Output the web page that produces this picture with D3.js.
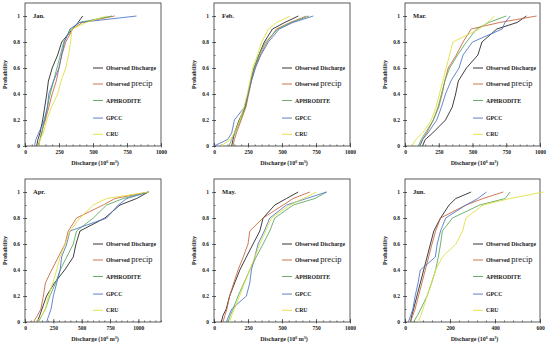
<!DOCTYPE html>
<html lang="en">
<head>
<meta charset="utf-8">
<title>Discharge probability curves</title>
<script src="https://cdn.jsdelivr.net/npm/d3@7"></script>
<style>
  body { margin: 0; background: #fff; }
  text { font-family: "Liberation Serif", "DejaVu Serif", serif; font-weight: bold; fill: #222; }
</style>
</head>
<body>
<script>
// months and x axis setup per panel
var months = ["Jan.", "Feb.", "Mar.", "Apr.", "May.", "Jun."];
var xMax = [1000, 1000, 1000, 1200, 1000, 600];
var xTicks = [
  [0, 250, 500, 750, 1000], [0, 250, 500, 750, 1000], [0, 250, 500, 750, 1000],
  [0, 250, 500, 750, 1000], [0, 250, 500, 750, 1000], [0, 200, 400, 600]
];
var yTicks = [0, 0.2, 0.4, 0.6, 0.8, 1];
var yTickLabels = ["0", "0.2", "0.4", "0.6", "0.8", "1"];

// cumulative probability levels
var probs = [0, 0.05, 0.1, 0.2, 0.3, 0.4, 0.5, 0.6, 0.7, 0.8, 0.9, 0.95, 1];

// discharge (10^6 m3) at each probability, one row per month
var obsDischarge = [
  [86, 95, 110, 130, 145, 160, 172, 200, 240, 270, 350, 390, 424],
  [130, 140, 150, 185, 230, 250, 270, 295, 330, 370, 430, 520, 620],
  [130, 150, 205, 300, 350, 375, 395, 455, 540, 570, 680, 830, 900],
  [109, 130, 150, 190, 260, 350, 426, 450, 485, 705, 838, 985, 1088],
  [54, 66, 90, 115, 152, 190, 238, 287, 337, 361, 447, 533, 619],
  [25, 30, 38, 53, 68, 83, 98, 113, 128, 158, 196, 226, 294]
];
var obsPrecip = [
  [95, 110, 120, 150, 175, 200, 230, 250, 270, 300, 350, 420, 660],
  [140, 150, 165, 200, 235, 255, 275, 300, 340, 390, 460, 560, 680],
  [110, 130, 160, 210, 250, 275, 295, 320, 380, 430, 490, 700, 975],
  [74, 110, 140, 162, 180, 235, 294, 353, 382, 455, 690, 794, 1090],
  [66, 80, 95, 115, 145, 177, 215, 250, 263, 361, 508, 582, 705],
  [23, 35, 45, 60, 75, 90, 105, 120, 136, 158, 271, 347, 437]
];
var aphrodite = [
  [100, 110, 125, 140, 165, 185, 210, 235, 260, 285, 340, 400, 640],
  [110, 130, 155, 195, 230, 250, 270, 295, 330, 380, 470, 570, 700],
  [100, 120, 150, 210, 245, 270, 295, 330, 390, 455, 530, 620, 750],
  [118, 150, 180, 220, 270, 310, 368, 426, 455, 603, 720, 868, 1090],
  [103, 120, 140, 177, 220, 263, 310, 361, 410, 447, 582, 742, 828],
  [38, 55, 70, 98, 118, 136, 148, 158, 166, 211, 332, 445, 467]
];
var gpcc = [
  [70, 80, 100, 145, 165, 175, 210, 250, 270, 290, 330, 400, 820],
  [0, 100, 130, 150, 225, 250, 275, 305, 345, 400, 480, 580, 730],
  [110, 130, 170, 235, 270, 300, 340, 400, 430, 500, 720, 740, 780],
  [190, 210, 230, 250, 280, 310, 323, 368, 397, 720, 823, 897, 1090],
  [91, 110, 130, 238, 263, 275, 300, 324, 370, 410, 533, 680, 828],
  [15, 25, 35, 45, 58, 68, 135, 143, 158, 181, 271, 324, 362]
];
var cru = [
  [100, 110, 135, 160, 195, 240, 265, 300, 320, 335, 345, 450, 600],
  [50, 120, 150, 190, 220, 245, 265, 285, 320, 350, 400, 460, 560],
  [50, 80, 130, 195, 230, 255, 280, 305, 330, 355, 550, 610, 665],
  [103, 150, 180, 206, 245, 280, 310, 353, 397, 485, 603, 720, 1090],
  [115, 130, 150, 189, 225, 263, 300, 337, 380, 422, 558, 656, 754],
  [60, 70, 80, 98, 118, 136, 166, 226, 256, 271, 347, 467, 615]
];

var seriesNames = ["Observed Discharge", "Observed precip", "APHRODITE", "GPCC", "CRU"];
var seriesColors = ["#1e1e1e", "#c8623a", "#55a65a", "#4a72c4", "#dede3a"];
var allSeries = [obsDischarge, obsPrecip, aphrodite, gpcc, cru];

// panel boxes
var colX = [[25, 161], [214, 350], [405, 540]];
var rowY = [[3, 146], [179, 322]];

var svg = d3.select("body").append("svg")
  .attr("width", 550)
  .attr("height", 344);

months.forEach(function(m, i) {
  var c = colX[i % 3], r = rowY[Math.floor(i / 3)];
  var x = d3.scaleLinear().domain([0, xMax[i]]).range(c);
  var y = d3.scaleLinear().domain([0, 1.1]).range([r[1], r[0]]);
  var g = svg.append("g");

  // frame
  g.append("rect")
    .attr("x", c[0]).attr("y", r[0])
    .attr("width", c[1] - c[0]).attr("height", r[1] - r[0])
    .attr("fill", "none").attr("stroke", "#333").attr("stroke-width", 0.8);

  // x minor ticks
  var step = xTicks[i][1] / 5;
  var minors = d3.range(0, xMax[i] + 0.1, step);
  var xMinor = g.append("g").attr("transform", "translate(0," + r[1] + ")")
    .call(d3.axisBottom(x).tickValues(minors).tickSize(-1.5).tickFormat(""));
  var xMajor = g.append("g").attr("transform", "translate(0," + r[1] + ")")
    .call(d3.axisBottom(x).tickValues(xTicks[i]).tickSize(-3).tickPadding(5)
      .tickFormat(function(d) { return String(d); }));
  var xOut = g.append("g").attr("transform", "translate(0," + r[1] + ")")
    .call(d3.axisBottom(x).tickValues(xTicks[i]).tickSize(1.5).tickFormat(""));

  var yMinor = g.append("g").attr("transform", "translate(" + c[0] + ",0)")
    .call(d3.axisLeft(y).tickValues(d3.range(0, 1.05, 0.1)).tickSize(-1.5).tickFormat(""));
  var yMajor = g.append("g").attr("transform", "translate(" + c[0] + ",0)")
    .call(d3.axisLeft(y).tickValues(yTicks).tickSize(2)
      .tickFormat(function(d, k) { return yTickLabels[k]; }).tickPadding(3));
  var yIn = g.append("g").attr("transform", "translate(" + c[0] + ",0)")
    .call(d3.axisLeft(y).tickValues(yTicks).tickSize(-2).tickFormat(""));

  [xMinor, xMajor, xOut, yMinor, yMajor, yIn].forEach(function(a) {
    a.select(".domain").remove();
    a.attr("font-family", null);
    a.selectAll("line").attr("stroke", "#333").attr("stroke-width", 0.7);
    a.selectAll("text").attr("font-size", "5.5px");
  });
  xMajor.selectAll("text").attr("dy", "0.55em");

  // axis titles
  var xt = g.append("text")
    .attr("x", (c[0] + c[1]) / 2 + 2).attr("y", r[1] + 19)
    .attr("text-anchor", "middle").attr("font-size", "6px");
  xt.append("tspan").text("Discharge (10");
  xt.append("tspan").text("6").attr("font-size", "4px").attr("dy", "-2");
  xt.append("tspan").text(" m").attr("dy", "2");
  xt.append("tspan").text("3").attr("font-size", "4px").attr("dy", "-2");
  xt.append("tspan").text(")").attr("dy", "2");

  g.append("text")
    .attr("transform", "translate(" + (c[0] - 18) + "," + ((r[0] + r[1]) / 2) + ") rotate(-90)")
    .attr("text-anchor", "middle").attr("font-size", "6px")
    .text("Probability");

  g.append("text")
    .attr("x", c[0] + 8).attr("y", y(1) + 2)
    .attr("font-size", "6.5px").text(m);

  // curves
  var line = d3.line()
    .x(function(d) { return x(d[0]); })
    .y(function(d) { return y(d[1]); });
  allSeries.forEach(function(s, k) {
    var pts = s[i].map(function(v, j) { return [v, probs[j]]; });
    g.append("path")
      .attr("d", line(pts))
      .attr("fill", "none")
      .attr("stroke", seriesColors[k])
      .attr("stroke-width", 0.85);
  });

  // legend
  var legY = [0.6, 0.477, 0.35, 0.215, 0.09];
  seriesNames.forEach(function(n, k) {
    var ly = y(legY[k]);
    g.append("line")
      .attr("x1", c[0] + 68).attr("x2", c[0] + 78)
      .attr("y1", ly).attr("y2", ly)
      .attr("stroke", seriesColors[k]).attr("stroke-width", 0.9);
    var t = g.append("text")
      .attr("x", c[0] + 81).attr("y", ly + 2)
      .attr("font-size", "5.8px");
    if (k === 1) {
      t.append("tspan").text("Observed ");
      t.append("tspan").text("precip").attr("font-size", "8.5px").attr("font-weight", "normal");
    } else {
      t.text(n);
    }
  });
});
</script>
</body>
</html>
